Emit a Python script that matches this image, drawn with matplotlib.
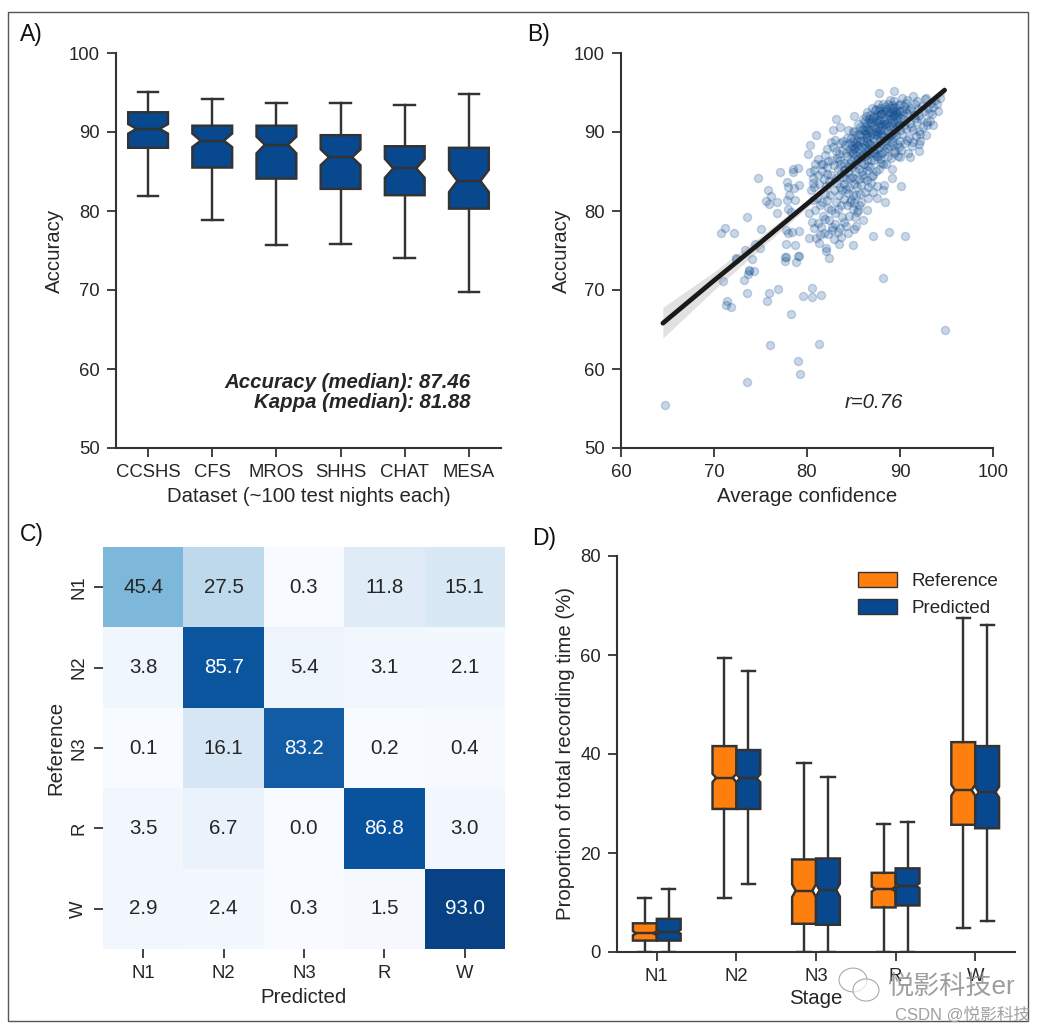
"""
Four panel sleep staging figure: accuracy boxes, confidence scatter,
confusion matrix and stage proportion boxes. Saves to out.png
"""
import numpy as np
import matplotlib.pyplot as plt
from matplotlib.patches import Rectangle, Ellipse, Patch

W, H = 1047, 1033
BLUE = '#08488e'
ORANGE = '#ff7f0e'
DARK = '#333333'

# panel A
datasets = ['CCSHS', 'CFS', 'MROS', 'SHHS', 'CHAT', 'MESA']
acc_whishi = [95.1, 94.2, 93.7, 93.7, 93.4, 94.8]
acc_q3 = [92.5, 90.8, 90.8, 89.6, 88.2, 88.0]
acc_cihi = [91.0, 89.8, 89.4, 87.8, 86.6, 85.2]
acc_med = [90.4, 88.9, 88.4, 86.8, 85.4, 83.8]
acc_cilo = [89.8, 88.1, 87.3, 85.8, 84.2, 82.4]
acc_q1 = [88.0, 85.5, 84.1, 82.8, 82.0, 80.3]
acc_whislo = [81.9, 78.9, 75.7, 75.8, 74.0, 69.7]

# panel B
scatter_points = [
    (64.7,55.5),(73.5,58.4),(76.0,63.0),(79.0,61.0),(79.3,59.4),(81.3,63.2),(94.8,64.9),(88.2,71.5),
    (78.3,67.0),(75.7,68.6),(75.9,69.6),(76.9,70.1),(79.6,69.3),(80.5,69.1),(80.5,70.2),(81.5,69.4),
    (73.6,69.6),(71.4,68.6),(71.3,68.1),(71.8,67.8),(71.0,71.1),(73.2,71.3),(73.7,72.0),(73.8,72.4),
    (74.3,72.4),(74.1,73.9),(72.4,73.9),(77.6,74.2),(77.6,73.7),(78.8,73.5),(79.1,74.3),(82.0,75.0),
    (82.4,74.1),(74.7,84.2),(77.1,84.9),(78.5,85.3),(78.5,84.9),(79.0,85.5),(75.8,82.7),(76.1,81.9),
    (75.6,81.3),(75.9,80.9),(76.8,81.2),(76.8,79.7),(73.6,79.2),(71.2,77.9),(70.7,77.2),(72.1,77.2),
    (75.0,77.7),(77.7,77.6),(78.0,77.2),(78.4,77.4),(77.7,75.8),(78.7,75.7),(77.7,74.2),(79.0,74.3),
    (73.3,75.1),(74.4,75.8),(74.9,75.3),(72.4,74.0),(73.8,72.5),(77.9,83.7),(78.0,83.1),(78.6,82.9),
    (79.1,83.3),(78.1,82.0),(77.8,81.4),(78.7,81.4),(78.0,80.3),(78.3,79.9),(79.1,77.5),
    (87.7,94.9),(89.4,95.2),(90.2,94.3),(91.4,94.5),(92.8,94.3),(94.1,92.6),(92.9,91.3),(93.1,92.4),
    (83.1,91.6),(82.8,90.3),(83.6,90.6),(81.0,89.6),(80.3,88.4),(80.1,87.2),(92.0,87.6),(92.0,88.5),
    (91.1,86.8),(90.0,86.8),(89.1,84.2),(90.1,83.2),(88.3,83.3),(88.2,82.6),(88.4,81.2),(87.1,82.4),
    (87.5,81.7),(86.6,81.6),(90.5,76.8),(88.8,77.3),(87.1,76.8),(84.9,75.7),(82.0,75.3),(80.2,76.6),
    (81.8,77.2),(83.3,77.3),(81.2,78.5),(82.7,78.0),(85.2,79.2),(86.4,80.1),(85.6,80.8),(84.7,81.4),
    (80.2,79.8),(80.4,82.6),(80.6,84.2),(80.7,85.2),(80.9,80.1),(81.1,81.7),(81.3,83.4),(81.5,86.0),
    (81.6,85.1),(81.7,79.4),(81.9,82.2),(80.5,78.6),(81.0,76.6),(81.4,80.7),(81.8,84.1),(80.8,83.0),
    (81.2,86.6),(81.9,87.1),(81.6,81.1),(80.3,84.9),(80.6,81.4),(81.5,78.0),(81.3,75.9),(81.9,79.0),
    (82.0,83.2),(82.1,85.6),(82.2,87.8),(82.3,80.4),(82.4,78.8),(82.5,82.0),(82.6,84.6),(82.7,86.4),
    (82.8,88.1),(82.9,76.4),(83.0,79.7),(83.1,81.2),(83.2,83.6),(83.3,85.3),(83.4,87.2),(83.5,88.6),
    (83.6,77.9),(83.7,80.8),(83.8,82.7),(83.9,84.3),(84.0,86.1),(83.2,86.7),(82.4,83.8),(82.9,85.8),
    (83.5,83.0),(83.8,79.2),(82.2,81.4),(82.7,77.6),(83.4,75.8),(84.0,78.6),(83.9,88.9),(83.0,89.0),
    (82.3,86.3),(83.6,85.9),(83.1,84.2),(82.6,80.1),(83.7,84.8),(84.0,81.5),(84.0,83.4),(83.3,80.2),
    (84.1,85.2),(84.2,87.4),(84.3,89.3),(84.4,82.3),(84.5,79.4),(84.6,84.2),(84.7,86.3),(84.8,88.2),
    (84.9,90.1),(85.0,83.4),(85.1,81.0),(85.2,85.1),(85.3,87.1),(85.4,89.0),(85.5,91.0),(85.6,84.0),
    (85.7,82.2),(85.8,86.2),(85.9,88.1),(86.0,90.2),(84.2,78.1),(84.4,84.9),(84.6,87.9),(84.8,85.6),
    (85.0,86.7),(85.2,88.6),(85.4,83.0),(85.6,86.7),(85.8,89.5),(86.0,84.6),(84.3,80.7),(84.5,83.1),
    (84.7,89.2),(84.9,82.0),(85.1,90.0),(85.3,78.1),(85.5,88.3),(85.7,87.4),(85.9,85.1),(86.0,91.7),
    (84.1,88.4),(84.5,86.0),(84.9,87.3),(85.2,84.1),(85.6,85.3),(85.8,83.3),(84.4,90.2),(85.1,92.0),
    (85.0,88.0),(85.4,86.4),(84.6,81.1),(85.9,87.0),(84.2,84.0),(85.5,80.1),(85.3,82.0),(85.7,90.6),
    (86.1,86.0),(86.2,88.4),(86.3,90.6),(86.4,92.5),(86.5,83.9),(86.6,85.7),(86.7,87.6),(86.8,89.5),
    (86.9,91.3),(87.0,93.0),(87.1,84.6),(87.2,86.4),(87.3,88.2),(87.4,90.1),(87.5,92.1),(87.6,93.6),
    (87.7,85.3),(87.8,87.2),(87.9,89.0),(88.0,91.0),(86.1,84.2),(86.2,91.4),(86.3,87.1),(86.4,89.4),
    (86.5,85.2),(86.6,90.4),(86.7,88.5),(86.8,92.1),(86.9,86.5),(87.0,84.4),(87.1,90.8),(87.2,88.9),
    (87.3,92.8),(87.4,86.9),(87.5,89.6),(87.6,91.5),(87.7,88.1),(87.8,93.1),(87.9,90.3),(88.0,86.1),
    (86.2,86.9),(86.4,88.1),(86.6,83.0),(86.8,87.3),(87.0,89.9),(87.2,91.9),(87.4,85.1),(87.6,90.0),
    (87.8,92.3),(88.0,88.6),(86.3,92.0),(86.5,89.9),(86.7,91.7),(86.9,88.4),(87.1,87.5),(87.3,90.5),
    (87.5,87.9),(87.7,91.2),(87.9,86.6),(86.6,87.9),(87.0,91.6),(87.4,92.9),(87.8,89.7),(86.2,89.7),
    (88.1,87.4),(88.2,89.5),(88.3,91.4),(88.4,93.2),(88.5,85.9),(88.6,88.0),(88.7,90.1),(88.8,92.2),
    (88.9,94.0),(89.0,86.7),(89.1,88.7),(89.2,90.6),(89.3,92.6),(89.4,93.9),(89.5,87.6),(89.6,89.6),
    (89.7,91.5),(89.8,93.4),(89.9,88.1),(90.0,90.2),(88.1,92.4),(88.2,86.0),(88.3,90.3),(88.4,88.9),
    (88.5,92.9),(88.6,91.1),(88.7,86.9),(88.8,89.4),(88.9,93.0),(89.0,91.8),(89.1,85.3),(89.2,92.0),
    (89.3,89.9),(89.4,87.3),(89.5,93.2),(89.6,90.9),(89.7,88.5),(89.8,92.1),(89.9,91.0),(90.0,93.6),
    (88.2,93.6),(88.4,91.0),(88.6,89.3),(88.8,90.8),(89.0,89.6),(89.2,88.3),(89.4,91.3),(89.6,92.7),
    (89.8,86.9),(90.0,88.9),(88.3,88.3),(88.7,93.5),(89.1,93.4),(89.5,90.3),(89.9,92.6),(88.5,90.6),
    (90.1,87.7),(90.2,89.7),(90.3,91.7),(90.4,93.3),(90.5,88.6),(90.6,90.4),(90.7,92.4),(90.8,94.0),
    (90.9,87.3),(91.0,89.2),(91.1,91.1),(91.2,93.1),(91.3,88.2),(91.4,90.3),(91.5,92.2),(91.6,93.6),
    (91.7,89.5),(91.8,91.3),(91.9,92.9),(92.0,90.1),(90.2,92.6),(90.4,90.9),(90.6,93.7),(90.8,89.0),
    (91.0,92.8),(91.2,90.6),(91.4,88.7),(91.6,91.8),(91.8,93.9),(92.0,92.2),(92.2,89.8),(92.3,91.6),
    (92.4,93.3),(92.5,90.6),(92.6,92.6),(92.7,94.2),(92.9,90.9),(93.0,93.0),(93.2,91.4),(93.3,93.7),
    (93.4,92.3),(93.6,93.2),(93.8,94.1),(94.0,93.5),(94.3,94.3),(92.1,88.9),(92.8,89.6),(93.5,90.9),
    (84.3,87.0),(84.7,87.5),(85.1,87.8),(85.4,88.3),(85.7,88.8),(86.0,88.9),(86.3,89.3),(86.5,88.7),
    (86.8,90.3),(87.1,89.2),(87.3,89.8),(87.6,90.8),(87.9,91.5),(88.2,90.9),(88.5,91.9),(88.8,91.6),
    (89.1,91.2),(89.4,92.3),(89.7,92.4),(90.0,91.8),(90.3,92.2),(90.6,92.9),(84.5,88.6),(84.9,88.9),
    (85.3,89.6),(85.6,89.8),(85.9,90.4),(86.2,90.2),(86.5,91.1),(86.8,91.0),(87.1,91.9),(87.4,91.3),
    (87.7,92.6),(88.0,92.3),(88.3,92.7),(88.6,92.5),(88.9,92.4),(89.2,93.1),(89.5,92.0),(89.8,90.7),
    (84.0,85.2),(84.4,85.7),(84.8,84.3),(85.2,86.0),(85.6,87.8),(86.0,87.2),(86.4,86.5),(86.8,85.6),
    (87.2,87.4),(87.6,87.0),(88.0,89.8),(88.4,87.6),(88.8,88.2),(89.2,89.4),(83.5,86.4),(83.8,87.7),
    (83.1,87.6),(82.6,88.7),(82.2,84.7),(81.7,85.9),(81.2,84.5),(80.9,85.9),(80.6,83.5),(82.9,82.7),
    (83.4,82.0),(84.2,82.8),(84.9,80.2),(85.4,79.9),(83.0,78.4),(82.3,77.1),(81.4,77.0),(80.7,77.8),
    (85.8,81.1),(86.2,82.4),(86.9,83.5),(87.5,83.2),(83.7,76.7),(84.4,77.2),(86.0,78.9),(85.1,77.7),
]

# regression line and its confidence band
fit_x = [64.5, 70.0, 75.0, 80.0, 85.0, 90.0, 94.8]
fit_y = [65.8, 71.2, 76.0, 80.9, 85.8, 90.6, 95.3]
fit_lo = [63.9, 70.0, 75.2, 80.4, 85.5, 90.3, 94.7]
fit_hi = [67.8, 72.3, 76.8, 81.4, 86.1, 91.0, 95.9]

# panel C
stages = ['N1', 'N2', 'N3', 'R', 'W']
confusion = [
    [45.4, 27.5, 0.3, 11.8, 15.1],
    [3.8, 85.7, 5.4, 3.1, 2.1],
    [0.1, 16.1, 83.2, 0.2, 0.4],
    [3.5, 6.7, 0.0, 86.8, 3.0],
    [2.9, 2.4, 0.3, 1.5, 93.0],
]

# panel D
ref_whishi = [11.0, 59.4, 38.2, 25.9, 67.5]
ref_q3 = [5.8, 41.6, 18.7, 16.0, 42.4]
ref_cihi = [4.2, 36.0, 13.7, 13.2, 33.8]
ref_med = [3.8, 35.2, 12.4, 12.7, 32.7]
ref_cilo = [3.4, 34.3, 11.1, 12.2, 31.6]
ref_q1 = [2.3, 28.9, 5.7, 9.0, 25.7]
ref_whislo = [0.0, 11.0, 0.0, 0.0, 4.8]

pred_whishi = [12.7, 56.8, 35.4, 26.2, 66.0]
pred_q3 = [6.7, 40.8, 18.9, 16.9, 41.6]
pred_cihi = [4.5, 35.9, 13.8, 13.9, 33.4]
pred_med = [4.1, 35.1, 12.5, 13.4, 32.3]
pred_cilo = [3.7, 34.3, 11.2, 12.9, 31.2]
pred_q1 = [2.3, 28.9, 5.5, 9.4, 25.0]
pred_whislo = [0.0, 13.8, 0.0, 0.0, 6.3]


def add_axes_px(fig, left, top, right, bottom):
    return fig.add_axes([left / W, 1 - bottom / H, (right - left) / W, (bottom - top) / H])


def make_stats(whislo, q1, cilo, med, cihi, q3, whishi):
    stats = []
    for i in range(len(med)):
        stats.append(dict(whislo=whislo[i], q1=q1[i], cilo=cilo[i], med=med[i],
                          cihi=cihi[i], q3=q3[i], whishi=whishi[i], fliers=[]))
    return stats


def draw_boxes(ax, stats, positions, width, capwidth, color, indent):
    line = dict(color=DARK, linewidth=1.75)
    art = ax.bxp(stats, positions=positions, widths=width, capwidths=capwidth,
                 shownotches=True, showfliers=False, patch_artist=True,
                 boxprops=dict(facecolor=color, edgecolor=DARK, linewidth=1.75),
                 medianprops=line, whiskerprops=line, capprops=line,
                 manage_ticks=False)
    # shallower waist than matplotlib's fixed quarter width
    for box, med, p in zip(art['boxes'], art['medians'], positions):
        verts = box.get_path().vertices
        waist = np.isclose(np.abs(verts[:, 0] - p), width * 0.25)
        verts[waist, 0] = p + np.sign(verts[waist, 0] - p) * (width * 0.5 - indent)
        med.set_xdata([p - width * 0.5 + indent, p + width * 0.5 - indent])
    return art


def style_axes(ax):
    ax.spines['top'].set_visible(False)
    ax.spines['right'].set_visible(False)
    ax.spines['left'].set_linewidth(1.5)
    ax.spines['bottom'].set_linewidth(1.5)
    ax.spines['left'].set_color(DARK)
    ax.spines['bottom'].set_color(DARK)
    ax.tick_params(length=6.5, width=1.3, color=DARK, labelsize=13.3, labelcolor='#262626', pad=5)


plt.rcParams['font.family'] = ['Liberation Sans', 'Noto Sans CJK SC', 'DejaVu Sans']
plt.rcParams['text.color'] = '#262626'
plt.rcParams['axes.labelcolor'] = '#262626'
plt.rcParams['axes.labelsize'] = 14.7
fig = plt.figure(figsize=(W / 100, H / 100), dpi=100)

fig.add_artist(Rectangle((8 / W, 1 - 1021 / H), 1020 / W, 1009 / H, transform=fig.transFigure,
                         fill=False, edgecolor='#555555', linewidth=1))

# A
ax = add_axes_px(fig, 116, 53, 501, 448)
draw_boxes(ax, make_stats(acc_whislo, acc_q1, acc_cilo, acc_med, acc_cihi, acc_q3, acc_whishi),
           list(range(len(datasets))), 0.62, 0.32, BLUE, 0.13)
ax.set_xlim(-0.5, 5.5)
ax.set_ylim(50, 100)
ax.set_xticks(range(len(datasets)))
ax.set_xticklabels(datasets)
ax.set_yticks([50, 60, 70, 80, 90, 100])
ax.set_xlabel('Dataset (~100 test nights each)', labelpad=4)
ax.set_ylabel('Accuracy', labelpad=4)
style_axes(ax)
ax.text(5.02, 58.35, 'Accuracy (median): 87.46', ha='right', va='center', fontsize=14.7,
        fontweight='bold', fontstyle='italic')
ax.text(5.02, 55.75, 'Kappa (median): 81.88', ha='right', va='center', fontsize=14.7,
        fontweight='bold', fontstyle='italic')

# B
ax = add_axes_px(fig, 621, 53, 993, 448)
conf = [p[0] for p in scatter_points]
acc = [p[1] for p in scatter_points]
ax.scatter(conf, acc, s=34, color=BLUE, alpha=0.22, linewidths=1.0, zorder=2)
ax.fill_between(fit_x, fit_lo, fit_hi, color='#888888', alpha=0.25, linewidth=0, zorder=3)
ax.plot(fit_x, fit_y, color='#1a1a1a', linewidth=3.4, solid_capstyle='round', zorder=4)
ax.set_xlim(60, 100)
ax.set_ylim(50, 100)
ax.set_xticks([60, 70, 80, 90, 100])
ax.set_yticks([50, 60, 70, 80, 90, 100])
ax.set_xlabel('Average confidence', labelpad=4)
ax.set_ylabel('Accuracy', labelpad=2.5)
style_axes(ax)
ax.text(87.2, 55.8, 'r=0.76', ha='center', va='center', fontsize=14.7, fontstyle='italic')

# C
ax = add_axes_px(fig, 103, 547, 505, 949)
matrix = np.array(confusion)
ax.pcolormesh(matrix, cmap='Blues', vmin=0, vmax=100)
ax.invert_yaxis()
for i in range(matrix.shape[0]):
    for j in range(matrix.shape[1]):
        val = matrix[i, j]
        ax.text(j + 0.5, i + 0.5, f'{val:.1f}', ha='center', va='center', fontsize=14.8,
                color='white' if val > 60 else '#262626')
ax.set_xticks(np.arange(5) + 0.5)
ax.set_yticks(np.arange(5) + 0.5)
ax.set_xticklabels(stages)
ax.set_yticklabels(stages, rotation=90, va='center')
ax.set_xlabel('Predicted', labelpad=4)
ax.set_ylabel('Reference', labelpad=3)
style_axes(ax)
for s in ax.spines.values():
    s.set_visible(False)

# D
ax = add_axes_px(fig, 617, 556, 1015, 952)
pos = np.arange(5)
draw_boxes(ax, make_stats(ref_whislo, ref_q1, ref_cilo, ref_med, ref_cihi, ref_q3, ref_whishi),
           pos - 0.15, 0.3, 0.165, ORANGE, 0.045)
draw_boxes(ax, make_stats(pred_whislo, pred_q1, pred_cilo, pred_med, pred_cihi, pred_q3, pred_whishi),
           pos + 0.15, 0.3, 0.165, BLUE, 0.045)
ax.set_xlim(-0.5, 4.5)
ax.set_ylim(0, 80)
ax.set_xticks(pos)
ax.set_xticklabels(stages)
ax.set_yticks([0, 20, 40, 60, 80])
ax.set_xlabel('Stage', labelpad=3)
ax.set_ylabel('Proportion of total recording time (%)', labelpad=3.5)
style_axes(ax)
handles = [Patch(facecolor=ORANGE, edgecolor=DARK, linewidth=1, label='Reference'),
           Patch(facecolor=BLUE, edgecolor=DARK, linewidth=1, label='Predicted')]
ax.legend(handles=handles, frameon=False, fontsize=13.6, loc='upper left',
          bbox_to_anchor=(0.605, 0.96), handlelength=2.05, handleheight=0.85,
          handletextpad=0.8, labelspacing=0.5, borderpad=0, borderaxespad=0)

# panel letters
for label, px, py in [('A)', 20, 35), ('B)', 527, 35), ('C)', 20, 535), ('D)', 532, 539)]:
    fig.text(px / W, 1 - py / H, label, fontsize=16.5, ha='left', va='center', color='#111111')

# watermark
for cx, cy, rx in [(853, 980, 14), (866, 990, 13)]:
    fig.add_artist(Ellipse((cx / W, 1 - cy / H), 2 * rx / W, 2 * rx * 0.85 / H,
                           transform=fig.transFigure, facecolor=(1, 1, 1, 0.7),
                           edgecolor='#aaaaaa', linewidth=0.8))
fig.text(887 / W, 1 - 987 / H, '悦影科技er', fontsize=18.8, color='#8c8c8c', alpha=0.85,
         ha='left', va='center')
fig.text(895 / W, 1 - 1015 / H, 'CSDN @悦影科技', fontsize=12, color='#a0a0a0',
         ha='left', va='center')

fig.savefig('out.png', dpi=100)
